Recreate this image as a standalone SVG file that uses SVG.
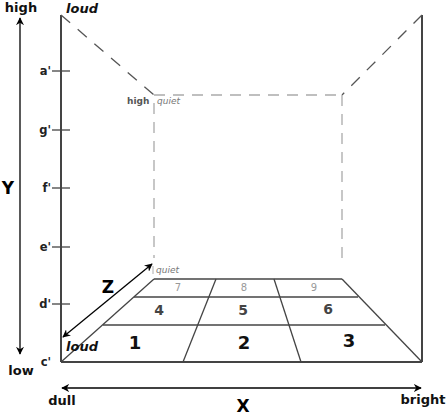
<svg xmlns="http://www.w3.org/2000/svg" width="446" height="415" viewBox="0 0 446 415">
<defs>
<marker id="ah" viewBox="0 0 10 10" refX="9" refY="5" markerWidth="8" markerHeight="8" orient="auto-start-reverse" markerUnits="userSpaceOnUse">
<path d="M0,0 L10,5 L0,10 L3,5 Z" fill="#000"/>
</marker>
<style>
text{font-family:"DejaVu Sans","Liberation Sans",sans-serif}
.lab{font-size:11.5px;font-weight:bold;fill:#222}
.big{font-size:13px;font-weight:bold;fill:#111}
.ax{font-size:17px;font-weight:bold;fill:#000}
.frame{stroke:#444;stroke-width:2;fill:none}
.floor{stroke:#444;stroke-width:1.3;fill:none}
.dd{stroke:#555;stroke-width:1.3;stroke-dasharray:12 10;fill:none}
.dl{stroke:#aaa;stroke-width:1.3;stroke-dasharray:11 8;fill:none}
.arr{stroke:#000;stroke-width:1.3;fill:none;marker-start:url(#ah);marker-end:url(#ah)}
</style>
</defs>
<g id="connectors">
<line class="frame" x1="61" y1="15" x2="61" y2="362"/>
<line class="frame" x1="422" y1="15" x2="422" y2="362"/>
<line class="frame" x1="61" y1="362" x2="422" y2="362"/>
<line class="dd" x1="61" y1="15" x2="154" y2="95"/>
<line class="dd" x1="422" y1="15" x2="342" y2="95"/>
<line class="dl" x1="154" y1="95" x2="342" y2="95"/>
<line class="dl" x1="154" y1="103" x2="154" y2="258"/>
<line class="dl" x1="342" y1="95" x2="342" y2="266"/>
<g id="ticks" stroke="#444" stroke-width="1.3">
<line x1="52" y1="71" x2="70" y2="71"/>
<line x1="52" y1="130" x2="70" y2="130"/>
<line x1="52" y1="188" x2="70" y2="188"/>
<line x1="52" y1="247" x2="70" y2="247"/>
<line x1="52" y1="304" x2="70" y2="304"/>
</g>
<g id="floor">
<line class="floor" x1="154" y1="279" x2="342" y2="279"/>
<line class="floor" x1="134" y1="297" x2="358" y2="297"/>
<line class="floor" x1="103" y1="325" x2="385" y2="325"/>
<line class="floor" x1="154" y1="279" x2="61" y2="362"/>
<line class="floor" x1="342" y1="279" x2="422" y2="362"/>
<line class="floor" x1="216" y1="279" x2="183" y2="362"/>
<line class="floor" x1="274" y1="279" x2="301" y2="362"/>
</g>
<line class="arr" x1="20" y1="18" x2="20" y2="354"/>
<line class="arr" x1="62" y1="388" x2="421" y2="388"/>
<line class="arr" x1="63" y1="337" x2="152" y2="264"/>
</g>
<g id="cells">
<text x="178" y="291" font-size="10" fill="#999" text-anchor="middle">7</text>
<text x="244" y="291" font-size="10" fill="#999" text-anchor="middle">8</text>
<text x="314" y="291" font-size="10" fill="#999" text-anchor="middle">9</text>
<text x="159" y="315" font-size="14" font-weight="bold" fill="#444" text-anchor="middle">4</text>
<text x="243" y="315" font-size="14" font-weight="bold" fill="#444" text-anchor="middle">5</text>
<text x="328" y="314" font-size="14" font-weight="bold" fill="#444" text-anchor="middle">6</text>
<text x="135" y="349" font-size="18" font-weight="bold" fill="#111" text-anchor="middle">1</text>
<text x="244" y="349" font-size="18" font-weight="bold" fill="#111" text-anchor="middle">2</text>
<text x="349" y="347" font-size="18" font-weight="bold" fill="#111" text-anchor="middle">3</text>
</g>
<g id="ylabels">
<text class="lab" x="51" y="75" text-anchor="end">a'</text>
<text class="lab" x="51" y="134" text-anchor="end">g'</text>
<text class="lab" x="51" y="192" text-anchor="end">f'</text>
<text class="lab" x="51" y="251" text-anchor="end">e'</text>
<text class="lab" x="51" y="308" text-anchor="end">d'</text>
<text class="lab" x="51" y="366" text-anchor="end">c'</text>
</g>
<g id="axis-y">
<text class="big" x="21" y="12" text-anchor="middle">high</text>
<text class="ax" x="8" y="194" text-anchor="middle">Y</text>
<text class="big" x="21" y="375" text-anchor="middle">low</text>
</g>
<g id="axis-x">
<text class="big" x="62" y="405" text-anchor="middle">dull</text>
<text class="ax" x="243" y="412" text-anchor="middle">X</text>
<text class="big" x="423" y="404" text-anchor="middle">bright</text>
</g>
<g id="axis-z">
<text class="ax" x="108" y="293" text-anchor="middle">Z</text>
<text x="66" y="351" font-size="13" font-weight="bold" font-style="italic" fill="#111">loud</text>
<text x="156" y="273" font-size="9" font-style="italic" fill="#777">quiet</text>
<line x1="153" y1="266" x2="153" y2="274" stroke="#999" stroke-width="0.8"/>
<text x="66" y="13" font-size="13" font-weight="bold" font-style="italic" fill="#111">loud</text>
<text x="127" y="104" font-size="9" font-weight="bold" fill="#555">high</text>
<text x="157" y="104" font-size="9" font-style="italic" fill="#777">quiet</text>
</g>
</svg>
